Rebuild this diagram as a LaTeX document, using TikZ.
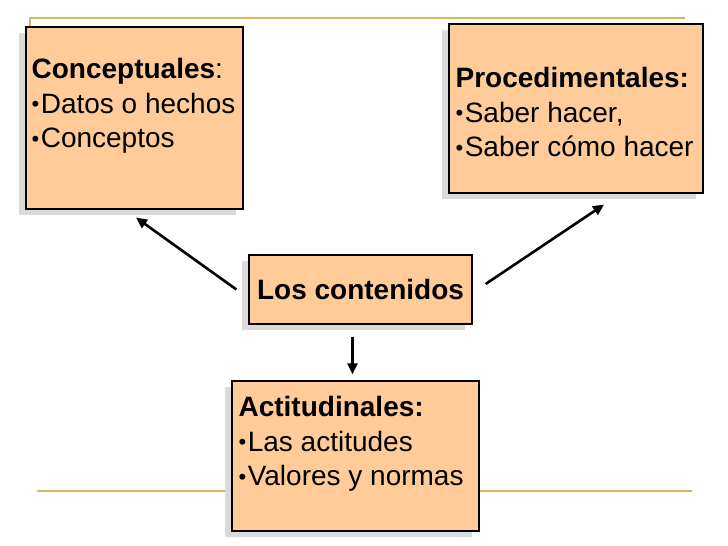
\documentclass[tikz,border=0pt]{standalone}
\usepackage{fontspec}
\setmainfont{Liberation Sans}
\usetikzlibrary{arrows.meta,calc,shadows}
\definecolor{peach}{RGB}{255,204,153}
\definecolor{shade}{RGB}{218,218,218}
\definecolor{rulegold}{RGB}{206,184,96}
\newcommand{\bul}{\raisebox{1.5pt}{\fontsize{22}{22}\selectfont\textbullet}\kern1.5pt}

\begin{document}
\begin{tikzpicture}[x=1pt,y=-1pt,
  every node/.style={font=\fontsize{28}{34.5}\selectfont},
  cbox/.style={draw,line width=1.2pt,fill=peach,inner sep=0pt,
    drop shadow={shadow xshift=-7pt,shadow yshift=-6pt,fill=shade,opacity=1}},
  items/.style={align=left,inner sep=0pt,anchor=north west},
  arr/.style={line width=2.6pt,-{Triangle[length=11pt,width=10pt]}}]
\useasboundingbox (0,0) rectangle (728,546);
% template rules
\draw[rulegold,line width=1.5pt] (30,27)--(30,18)--(685,18);
\draw[rulegold,line width=1.5pt] (37,491)--(692,491);
% boxes
\node[cbox,minimum width=217pt,minimum height=182pt] (conc) at (134.5,118) {};
\node[cbox,minimum width=254pt,minimum height=169pt] (proc) at (576,108.5) {};
\node[cbox,minimum width=223pt,minimum height=69pt] (cont) at (360.5,289.5) {\textbf{Los contenidos}};
\node[cbox,minimum width=247pt,minimum height=150pt] (acti) at (355.5,456) {};
% box texts
\node[items] (concT) at ($(conc.north west)+(6,32)$)
  {\textbf{Conceptuales}:\\\bul Datos o hechos\\\bul Conceptos};
\node[items] (procT) at ($(proc.north west)+(7,44)$)
  {\textbf{Procedimentales:}\\\bul Saber hacer,\\\bul Saber cómo hacer};
\node[items] (actiT) at ($(acti.north west)+(7,16)$)
  {\textbf{Actitudinales:}\\\bul Las actitudes\\\bul Valores y normas};
% arrows
\draw[arr] ($(cont.west)+(-12,0)$) -- ($(conc.south)+(1.5,8)$);
\draw[arr] ($(cont.east)+(13,-5.5)$) -- ($(proc.south)+(28,11)$);
\draw[arr] ($(cont.south)+(-8,12)$) -- ($(acti.north)+(-3,-6)$);
\end{tikzpicture}
\end{document}
